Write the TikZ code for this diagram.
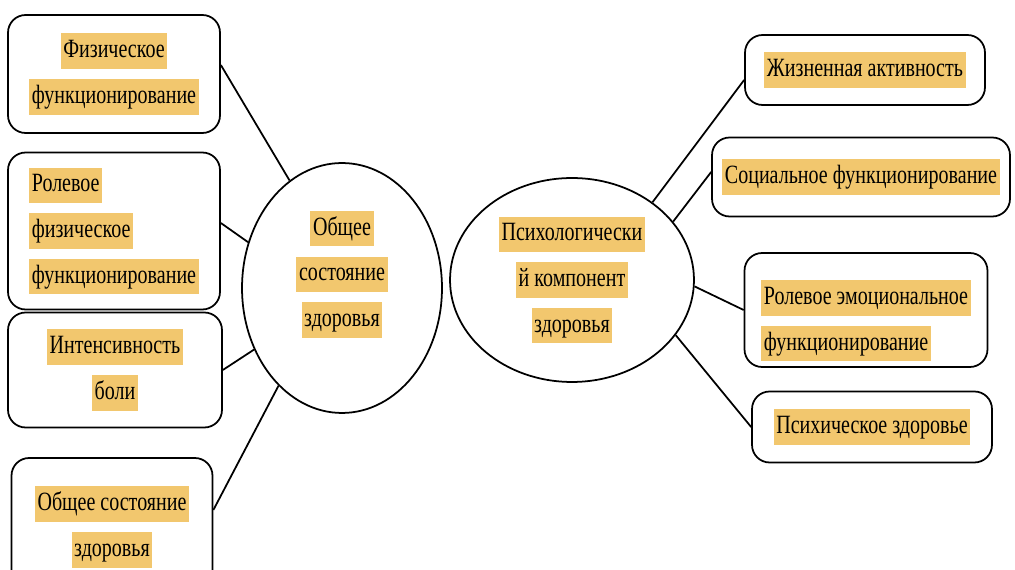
\documentclass[tikz,border=0pt]{standalone}
\usepackage{fontspec}
\setmainfont[FakeStretch=0.76]{Liberation Serif}
\usetikzlibrary{shapes.geometric}
\definecolor{hlgold}{HTML}{F2C76E}
\newcommand\hl[1]{{\setlength\fboxsep{1.5pt}\colorbox{hlgold}{\rule[-0.33em]{0pt}{1.15em}#1}}}

\begin{document}
\begin{tikzpicture}[x=0.02cm,y=-0.02cm,line width=1pt,font=\fontsize{15}{26}\selectfont,
    card/.style={draw,rounded corners=10pt,align=center,inner sep=0pt},
    blob/.style={draw,ellipse,align=center,inner sep=0pt}]
  \useasboundingbox (0,0) rectangle (1015,570);
  \clip (0,0) rectangle (1015,570);
  % centre
  \node[blob,minimum width=4cm,minimum height=5cm] (gen) at (342,288) {\hl{Общее}\\\hl{состояние}\\\hl{здоровья}\\[-4pt]\mbox{}};
  \node[blob,minimum width=4.88cm,minimum height=4.08cm] (psy) at (572,280) {\hl{Психологически}\\\hl{й компонент}\\\hl{здоровья}};
  % left
  \node[card,minimum width=4.24cm,minimum height=2.36cm] (fiz) at (114,74) {\hl{Физическое}\\\hl{функционирование}};
  \node[card,align=left,minimum width=4.24cm,minimum height=3.14cm] (rolfiz) at (114,231) {\hl{Ролевое}\\\hl{физическое}\\\hl{функционирование}};
  \node[card,minimum width=4.28cm,minimum height=2.3cm] (bol) at (115,370) {\hl{Интенсивность}\\\hl{боли}};
  \node[card,minimum width=4.02cm,minimum height=2.76cm] (obsh) at (112,527) {\hl{Общее состояние}\\\hl{здоровья}};
  % right
  \node[card,minimum width=4.8cm,minimum height=1.4cm] (zhiz) at (865,70) {\hl{Жизненная активность}};
  \node[card,minimum width=5.96cm,minimum height=1.58cm] (soc) at (861,177) {\hl{Социальное функционирование}};
  \node[card,align=left,minimum width=4.86cm,minimum height=2.28cm] (rolemo) at (866,310) {\mbox{}\\\hl{Ролевое эмоциональное}\\\hl{функционирование}};
  \node[card,minimum width=4.8cm,minimum height=1.42cm] (psih) at (872,427) {\hl{Психическое здоровье}};
  % links
  \draw ([yshift=0.18cm]fiz.east) -- (gen.116);
  \draw ([yshift=0.16cm]rolfiz.east) -- (gen.154);
  \draw (bol.east) -- (gen.215);
  \draw ([yshift=0.34cm]obsh.east) -- (gen.237);
  \draw (psy.44) -- ([yshift=-0.2cm]zhiz.west);
  \draw (psy.30) -- ([yshift=0.1cm]soc.west);
  \draw (psy.-3) -- (rolemo.west);
  \draw (psy.-28) -- (psih.west);
\end{tikzpicture}
\end{document}
